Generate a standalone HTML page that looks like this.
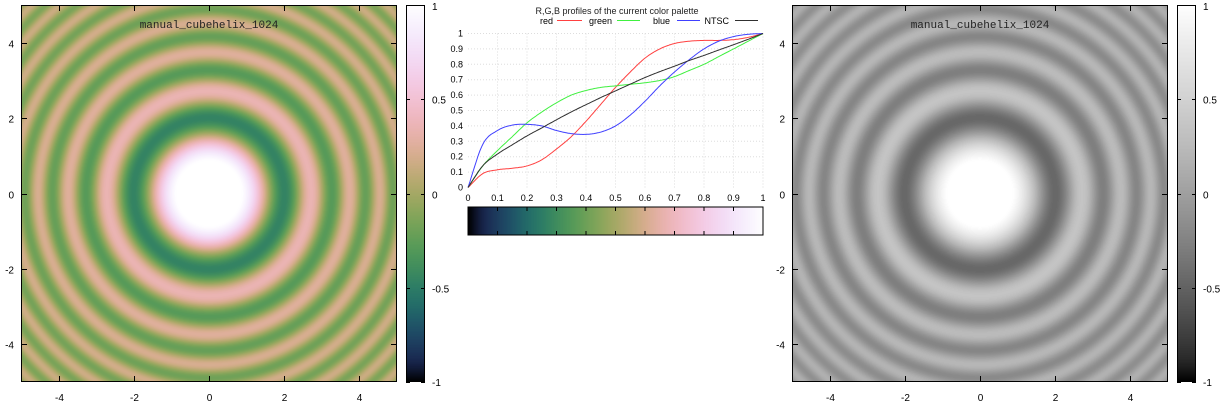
<!DOCTYPE html>
<html><head><meta charset="utf-8"><style>
html,body{margin:0;padding:0;background:#fff;width:1222px;height:406px;overflow:hidden}
#root{position:relative;width:1222px;height:406px;font-family:"Liberation Sans",sans-serif}
canvas{position:absolute}
svg{position:absolute;left:0;top:0}
</style></head><body>
<div id="root">
<canvas id="hm1" style="left:21px;top:5px" width="376" height="377"></canvas>
<canvas id="cb1" style="left:406px;top:5px" width="19" height="377"></canvas>
<canvas id="hm2" style="left:792px;top:5px" width="376" height="377"></canvas>
<canvas id="cb2" style="left:1177px;top:5px" width="19" height="377"></canvas>
<canvas id="grad" style="left:468px;top:207px" width="295" height="28"></canvas>
<svg id="ov" width="1222" height="406"></svg>
</div>
<script>
// palette profile data
const profX=[0,.05,.1,.15,.2,.25,.3,.35,.4,.45,.5,.55,.6,.65,.7,.75,.8,.85,.9,.95,1];
const redVals=[0,.09,.115,.125,.14,.18,.25,.33,.43,.54,.65,.75,.84,.9,.935,.95,.955,.955,.96,.975,1];
const greenVals=[0,.14,.24,.33,.42,.49,.55,.6,.63,.65,.66,.67,.68,.695,.72,.76,.8,.85,.9,.95,1];
const blueVals=[0,.28,.37,.405,.41,.4,.37,.35,.345,.36,.4,.47,.56,.66,.75,.83,.9,.95,.98,.995,1];
const xTicks=["0","0.1","0.2","0.3","0.4","0.5","0.6","0.7","0.8","0.9","1"];
const yTicks=["0","0.1","0.2","0.3","0.4","0.5","0.6","0.7","0.8","0.9","1"];
const mapTicks=[-4,-2,0,2,4];
const cbTicks=["-1","-0.5","0","0.5","1"];
const ringParams=[0.95,1.15]; // radial frequency k, value scale

function interp(arr,t){t=Math.max(0,Math.min(1,t));const n=profX.length;const i=Math.min(n-2,Math.floor(t/0.05));const f=(t-profX[i])/(profX[i+1]-profX[i]);
const p0=arr[Math.max(0,i-1)],p1=arr[i],p2=arr[i+1],p3=arr[Math.min(n-1,i+2)];
const m1=(p2-p0)/(i>0?2:1),m2=(p3-p1)/(i+2<n?2:1);
const f2=f*f,f3=f2*f;return (2*f3-3*f2+1)*p1+(f3-2*f2+f)*m1+(-2*f3+3*f2)*p2+(f3-f2)*m2;}
function cl(v){return Math.max(0,Math.min(1,v));}
function rgb(t){return [cl(interp(redVals,t)),cl(interp(greenVals,t)),cl(interp(blueVals,t))];}
function ntsc(t){const c=rgb(t);return .299*c[0]+.587*c[1]+.114*c[2];}
// Bessel J0 lookup
const J0N=4000,J0MAX=60,j0tab=new Float64Array(J0N+1);
for(let i=0;i<=J0N;i++){const x=i/J0N*J0MAX;let s=0;const M=120;for(let m=0;m<M;m++){const th=(m+.5)/M*Math.PI;s+=Math.cos(x*Math.sin(th));}j0tab[i]=s/M;}
function J0(x){const p=x/J0MAX*J0N;const i=Math.min(J0N-1,Math.floor(p));const f=p-i;return j0tab[i]*(1-f)+j0tab[i+1]*f;}
function field(x,y){const r2=x*x+y*y;return Math.max(-1,Math.min(1,ringParams[1]*J0(ringParams[0]*r2)));}

function drawMap(id,gray){const c=document.getElementById(id),ctx=c.getContext('2d');const W=c.width,H=c.height;const img=ctx.createImageData(W,H);
for(let j=0;j<H;j++)for(let i=0;i<W;i++){const x=-5+10*(i+.5)/W,y=5-10*(j+.5)/H;const t=(field(x,y)+1)/2;let col;
if(gray){const g=ntsc(t);col=[g,g,g];}else col=rgb(t);const k=(j*W+i)*4;img.data[k]=col[0]*255;img.data[k+1]=col[1]*255;img.data[k+2]=col[2]*255;img.data[k+3]=255;}
ctx.putImageData(img,0,0);}
function drawBar(id,gray,vertical){const c=document.getElementById(id),ctx=c.getContext('2d');const W=c.width,H=c.height;const n=vertical?H:W;
for(let p=0;p<n;p++){const t=vertical?1-(p+.5)/n:(p+.5)/n;let col=rgb(t);if(gray){const g=ntsc(t);col=[g,g,g];}
ctx.fillStyle=`rgb(${col[0]*255|0},${col[1]*255|0},${col[2]*255|0})`;if(vertical)ctx.fillRect(0,p,W,1);else ctx.fillRect(p,0,1,H);}}
drawMap('hm1',false);drawMap('hm2',true);drawBar('cb1',false,true);drawBar('cb2',true,true);drawBar('grad',false,false);

const NS='http://www.w3.org/2000/svg',ov=document.getElementById('ov');
function el(tag,attrs,txt){const e=document.createElementNS(NS,tag);for(const k in attrs)e.setAttribute(k,attrs[k]);if(txt!==undefined)e.textContent=txt;ov.appendChild(e);return e;}
function txt(x,y,s,anchor,name,extra){const e=el('text',Object.assign({x:x,y:y,'font-size':10,'text-anchor':anchor,fill:'#000'},extra||{}),s);

return e;}

function mapFrame(L,cbL,name){const T=5,B=382,R=L+376;const sx=v=>L+(v+5)/10*376,sy=v=>T+(5-v)/10*377;
const f=el('rect',{x:L+.5,y:T+.5,width:375,height:376,fill:'none',stroke:'#000','stroke-width':1});


mapTicks.forEach(v=>{const x=Math.round(sx(v))+.5,y=Math.round(sy(v))+.5;
el('line',{x1:x,x2:x,y1:B,y2:B-6,stroke:'#000'});el('line',{x1:x,x2:x,y1:T,y2:T+6,stroke:'#000'});
el('line',{x1:L,x2:L+6,y1:y,y2:y,stroke:'#000'});el('line',{x1:R,x2:R-6,y1:y,y2:y,stroke:'#000'});
txt(x,401,String(v),'middle',name+'-x-tick-label');txt(L-7,y+4,String(v),'end',name+'-y-tick-label');});
const cb=el('rect',{x:cbL+.5,y:T+.5,width:18,height:376,fill:'none',stroke:'#000'});


cbTicks.forEach((s,i)=>{const y=Math.round(B-i*377/4)+.5;el('line',{x1:cbL,x2:cbL+4,y1:y,y2:y,stroke:'#000'});el('line',{x1:cbL+19,x2:cbL+15,y1:y,y2:y,stroke:'#000'});
txt(cbL+26,Math.min(Math.max(y+4,10),386),s,'start',name+'-colorbar-label');});}
mapFrame(21,406,'left');mapFrame(792,1177,'right');
[[209,'left'],[980,'right']].forEach(([cx,n])=>{txt(cx,28,'manual_cubehelix_1024','middle',n+'-map-title',{'font-family':'Liberation Mono, monospace','font-size':11,fill:'#222'});});

// middle profile chart
const PL=468,PR=763,PT=33.5,PB=187.5;
const px=v=>PL+v*(PR-PL),py=v=>PB-v*(PB-PT);
for(let i=1;i<=10;i++){const x=px(i/10),y=py(i/10);el('line',{x1:x,x2:x,y1:PT,y2:PB,stroke:'#ddd','stroke-dasharray':'1,2'});el('line',{x1:PL,x2:PR,y1:y,y2:y,stroke:'#ddd','stroke-dasharray':'1,2'});}
xTicks.forEach((s,i)=>{const x=px(i/10);txt(x,201,s,'middle','profile-x-tick-label',{'font-size':9});el('line',{x1:x,x2:x,y1:207,y2:211,stroke:'#000'});el('line',{x1:x,x2:x,y1:235,y2:231,stroke:'#000'});});
yTicks.forEach((s,i)=>{txt(463,py(i/10)+3,s,'end','profile-y-tick-label',{'font-size':9});});
const gb=el('rect',{x:468,y:207,width:295,height:28,fill:'none',stroke:'#000'});


const ntscVals=profX.map((x,i)=>.299*redVals[i]+.587*greenVals[i]+.114*blueVals[i]);
function series(vals,color,name){let d='';for(let k=0;k<=300;k++){const t=k/300;const v=interp(vals,t);d+=(k?'L':'M')+px(t).toFixed(1)+','+py(v).toFixed(1);}
const p=el('path',{d:d,fill:'none',stroke:color,'stroke-width':1});

}
series(redVals,'#ff4040','red-line');series(greenVals,'#40f040','green-line');series(blueVals,'#4040ff','blue-line');series(ntscVals,'#303030','ntsc-line');
txt(617,14,'R,G,B profiles of the current color palette','middle','profile-title',{'font-size':9,fill:'#222'});
[['red',553,557,582,'#ff4040'],['green',612,617,640,'#40f040'],['blue',670,677,700,'#4040ff'],['NTSC',729,735,758,'#303030']].forEach(([n,tx,a,b,c])=>{
txt(tx,24,n,'end','legend-'+n.toLowerCase()+'-label',{'font-size':9});el('line',{x1:a,x2:b,y1:20.5,y2:20.5,stroke:c});});
</script>
</body></html>
